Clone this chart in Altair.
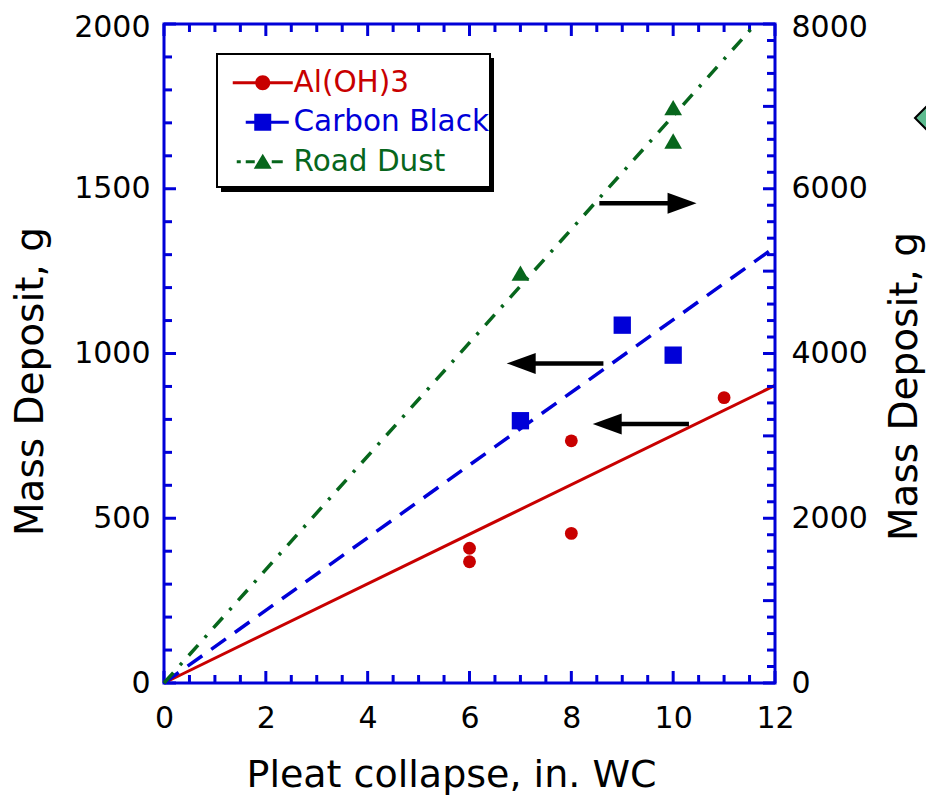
import altair as alt
import pandas as pd

# ---------------- data ----------------
series_names = ["Al(OH)3", "Carbon Black", "Road Dust"]
series_colors = ["#c80000", "#0000d8", "#07661c"]

al_x = [6, 6, 8, 8, 11]
al_y = [409, 368, 735, 454, 866]
cb_x = [7, 9, 10]
cb_y = [796, 1086, 995]
rd_x = [7, 10, 10]
rd_y = [4975, 6985, 6580]

al_fit_x = [0, 12]
al_fit_y = [0, 903]
cb_fit_x = [0, 12]
cb_fit_y = [0, 1323]
rd_fit_x = [0, 11.62]
rd_fit_y = [0, 8000]

arrow_tail_x = [8.55, 8.63, 10.31]
arrow_tip_x = [10.46, 6.73, 8.42]
arrow_y = [1456, 970, 786]

x_labels = [0, 2, 4, 6, 8, 10, 12]
x_minor = [v / 2 for v in range(0, 25) if v % 4 != 0]
left_labels = [0, 500, 1000, 1500, 2000]
left_minor = [v for v in range(0, 2001, 100) if v % 500 != 0]
right_labels = [0, 2000, 4000, 6000, 8000]
right_major = [v for v in range(0, 8001, 1000)]
right_minor = [v for v in range(0, 8001, 200) if v % 1000 != 0]

# ---------------- styling ----------------
W, H = 611, 659
BLUE = "#0000d8"
RED, CBLUE, GREEN = series_colors
FONT = "DejaVu Sans"

xs = alt.Scale(domain=[0, 12], nice=False, zero=False)
yL = alt.Scale(domain=[0, 2000], nice=False)
yR = alt.Scale(domain=[0, 8000], nice=False)

# keep the topmost label fully inside the page
left_offset = {"condition": {"test": f"datum.value === {left_labels[-1]}", "value": 3}, "value": 0}
right_offset = {"condition": {"test": f"datum.value === {right_labels[-1]}", "value": 3}, "value": 0}

xax = alt.Axis(values=x_labels, format="d", ticks=False, tickSize=0, domain=False, grid=False,
               labelFontSize=30, labelPadding=20, labelFlush=False, labelOverlap=False,
               labelFont=FONT, labelColor="black", titleFont=FONT, titleColor="black",
               title="Pleat collapse, in. WC", titleFontSize=38, titleFontWeight="normal",
               titleX=287, titleY=103, titleAlign="center", titleBaseline="alphabetic")
yLax = alt.Axis(values=left_labels, format="d", ticks=False, tickSize=0, domain=False, grid=False,
                labelFontSize=30, labelPadding=14, labelFlush=False, labelOverlap=False,
                labelOffset=left_offset,
                labelFont=FONT, labelColor="black", titleFont=FONT, titleColor="black",
                orient="left", title="Mass Deposit, g", titleFontSize=39,
                titleFontWeight="normal", titleAngle=270, titleX=-122, titleY=357,
                titleAlign="center", titleBaseline="alphabetic")
yRax = alt.Axis(values=right_labels, format="d", ticks=False, tickSize=0, domain=False, grid=False,
                labelFontSize=30, labelPadding=16, labelFlush=False, labelOverlap=False,
                labelOffset=right_offset,
                labelFont=FONT, labelColor="black", titleFont=FONT, titleColor="black",
                orient="right", title="Mass Deposit, g", titleFontSize=39,
                titleFontWeight="normal", titleAngle=270, titleX=141, titleY=362,
                titleAlign="center", titleBaseline="alphabetic")

X = alt.X("x:Q", scale=xs, axis=xax)
YL = alt.Y("y:Q", scale=yL, axis=yLax)
YR = alt.Y("y:Q", scale=yR, axis=yRax)

# legend symbols (line + marker drawn as filled paths, 1 unit = 10 px)
legend_paths = [
    "M-3,-0.15H3V0.15H-3Z M-0.75,0A0.75,0.75,0,1,1,0.75,0A0.75,0.75,0,1,1,-0.75,0Z",
    "M-1.7,-0.15H-0.85V-0.85H0.85V-0.15H2.6V0.15H0.85V0.85H-0.85V0.15H-1.7Z",
    "M-2.6,-0.15H-2.2V0.15H-2.6Z M-1.7,-0.15H-0.8V0.15H-1.7Z M0,-0.8L0.9,0.7H-0.9Z M0.9,-0.15H2V0.15H0.9Z",
]
HEAD_RIGHT = "M0,0L-2.9,-1.05L-2.9,1.05Z"
HEAD_LEFT = "M0,0L2.9,-1.05L2.9,1.05Z"

label_expr = (f"datum.value === '{series_names[0]}' ? '{RED}' : "
              f"datum.value === '{series_names[1]}' ? '{CBLUE}' : '{GREEN}'")
leg = alt.Legend(title=None, orient="none", legendX=84, legendY=44, symbolSize=400,
                 symbolStrokeWidth=0, symbolOpacity=1, labelFontSize=29.5, labelFont=FONT,
                 labelOffset=16, labelLimit=400, rowPadding=8.5, padding=0,
                 labelColor=alt.ExprRef(expr=label_expr))

one = pd.DataFrame({"k": [0]})

# ---------------- left group ----------------
shadow = alt.Chart(one).mark_rect(color="black").encode(
    x=alt.value(57), x2=alt.value(330), y=alt.value(34), y2=alt.value(168))
box = alt.Chart(one).mark_rect(fill="white", stroke="black", strokeWidth=2).encode(
    x=alt.value(53), x2=alt.value(326), y=alt.value(30), y2=alt.value(163))
frame = alt.Chart(one).mark_rect(fill="transparent", stroke=BLUE, strokeWidth=3).encode(
    x=alt.value(0), x2=alt.value(W), y=alt.value(0), y2=alt.value(H))


def xticks(vals, y0, y1):
    return alt.Chart(pd.DataFrame({"x": vals})).mark_rule(color=BLUE, strokeWidth=3).encode(
        x=X, y=alt.value(y0), y2=alt.value(y1))


def lticks(vals, length):
    return alt.Chart(pd.DataFrame({"y": vals})).mark_rule(color=BLUE, strokeWidth=3).encode(
        y=YL, x=alt.value(0), x2=alt.value(length))


def rticks(vals, length):
    return alt.Chart(pd.DataFrame({"y": vals})).mark_rule(color=BLUE, strokeWidth=3).encode(
        y=YR, x=alt.value(W), x2=alt.value(W - length))


red_line = alt.Chart(pd.DataFrame({"x": al_fit_x, "y": al_fit_y})).mark_line(
    color=RED, strokeWidth=3).encode(x=X, y=YL)
blue_line = alt.Chart(pd.DataFrame({"x": cb_fit_x, "y": cb_fit_y})).mark_line(
    color=CBLUE, strokeWidth=3.5, strokeDash=[18, 11]).encode(x=X, y=YL)
red_pts = alt.Chart(pd.DataFrame({"x": al_x, "y": al_y})).mark_point(
    filled=True, shape="circle", size=165, color=RED, opacity=1).encode(x=X, y=YL)
blue_pts = alt.Chart(pd.DataFrame({"x": cb_x, "y": cb_y})).mark_point(
    filled=True, shape="square", size=300, color=CBLUE, opacity=1).encode(x=X, y=YL)

arr = pd.DataFrame({"x": arrow_tail_x, "tip": arrow_tip_x, "y": arrow_y})
arr["dir"] = ["right" if t > s else "left" for s, t in zip(arr["x"], arr["tip"])]
arr["x2"] = [t - 0.4 if d == "right" else t + 0.4 for t, d in zip(arr["tip"], arr["dir"])]
shafts = alt.Chart(arr).mark_rule(color="black", strokeWidth=4.5).encode(
    x=X, x2="x2:Q", y=YL)
heads_r = alt.Chart(arr).transform_filter("datum.dir == 'right'").mark_point(
    filled=True, shape=HEAD_RIGHT, size=400, color="black", opacity=1).encode(
    x=alt.X("tip:Q", scale=xs, axis=xax), y=YL)
heads_l = alt.Chart(arr).transform_filter("datum.dir == 'left'").mark_point(
    filled=True, shape=HEAD_LEFT, size=400, color="black", opacity=1).encode(
    x=alt.X("tip:Q", scale=xs, axis=xax), y=YL)

legend_layer = alt.Chart(pd.DataFrame({"series": series_names, "x": [0, 0, 0], "y": [0, 0, 0]})
                         ).transform_filter("false").mark_point(filled=True, opacity=1).encode(
    x=X, y=YL,
    color=alt.Color("series:N", scale=alt.Scale(domain=series_names, range=series_colors), legend=leg),
    shape=alt.Shape("series:N", scale=alt.Scale(domain=series_names, range=legend_paths), legend=leg),
)

diamond = alt.Chart(one).mark_point(filled=True, shape="diamond", fill="#5dbb8f", stroke="black",
                                    strokeWidth=2, size=1444, opacity=1).encode(
    x=alt.value(770), y=alt.value(94))

left = alt.layer(
    shadow, box,
    lticks(left_labels, 12), lticks(left_minor, 8),
    xticks(x_labels, H, H - 12), xticks(x_minor, H, H - 8),
    xticks(x_labels, 0, 12), xticks(x_minor, 0, 8),
    red_line, blue_line, red_pts, blue_pts,
    shafts, heads_r, heads_l, legend_layer, diamond, frame,
)

# ---------------- right group ----------------
green_line = alt.Chart(pd.DataFrame({"x": rd_fit_x, "y": rd_fit_y})).mark_line(
    color=GREEN, strokeWidth=3.5, strokeDash=[14, 10, 3, 10]).encode(x=X, y=YR)
green_pts = alt.Chart(pd.DataFrame({"x": rd_x, "y": rd_y})).mark_point(
    filled=True, shape="triangle-up", size=313, color=GREEN, opacity=1).encode(x=X, y=YR)

right = alt.layer(rticks(right_major, 12), rticks(right_minor, 8), green_line, green_pts)

chart = alt.layer(left, right).resolve_scale(y="independent").properties(
    width=W, height=H,
    background="white",
    autosize=alt.AutoSizeParams(type="none"),
    padding={"left": 156, "top": 16, "right": 151, "bottom": 113},
).configure_view(stroke=None).configure_axis(
    labelFont=FONT, titleFont=FONT, labelColor="black", titleColor="black"
)

chart.save("out.html", embed_options={"renderer": "svg", "actions": False})
